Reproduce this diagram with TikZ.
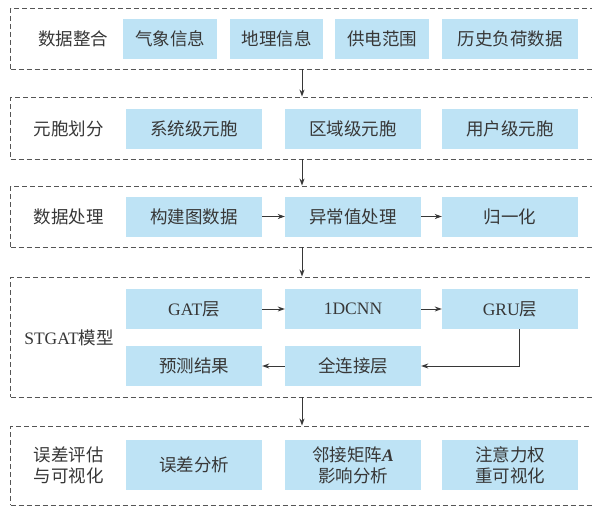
\documentclass[tikz,border=0pt]{standalone}
\usepackage{fontspec}
\setmainfont{Liberation Serif}
\newfontfamily\cjk{Noto Sans CJK SC}
\usetikzlibrary{arrows.meta}
\definecolor{boxblue}{RGB}{190,227,245}
\definecolor{txt}{RGB}{55,55,55}
\definecolor{dash}{RGB}{85,85,85}
\tikzset{
  base/.style={text=txt, font=\fontsize{17.5}{21}\selectfont\cjk, inner sep=0pt},
  bluebox/.style={base, fill=boxblue, minimum height=40pt, minimum width=136pt},
  group/.style={draw=dash, line width=0.9pt, dash pattern=on 5pt off 3pt, inner sep=0pt},
  lbl/.style={base, align=center},
  arr/.style={draw=txt, line width=0.9pt, -{Stealth[length=7pt,width=5pt]}}
}
\begin{document}
\begin{tikzpicture}[x=1pt,y=-1pt]
\useasboundingbox (0,0) rectangle (592,506);
\begin{scope}
\clip (0,0) rectangle (592,506);
% groups
\node[group, minimum width=589.5pt, minimum height=61pt] (g1) at (305.25,38.5) {};
\node[group, minimum width=589.5pt, minimum height=62pt] (g2) at (305.25,128) {};
\node[group, minimum width=589.5pt, minimum height=61pt] (g3) at (305.25,216.5) {};
\node[group, minimum width=589.5pt, minimum height=120pt] (g4) at (305.25,337) {};
\node[group, minimum width=589.5pt, minimum height=79pt] (g5) at (305.25,465.5) {};
\end{scope}
\coordinate (ax) at (302,0);
% row 1
\node[lbl] (l1) at (73,39) {数据整合};
\node[bluebox, minimum width=94pt] (a1) at (170,39) {气象信息};
\node[bluebox, minimum width=93pt] (a2) at (276.5,39) {地理信息};
\node[bluebox, minimum width=94pt] (a3) at (382,39) {供电范围};
\node[bluebox] (a4) at (510,39) {历史负荷数据};
% row 2
\node[lbl] (l2) at (69,129) {元胞划分};
\node[bluebox] (b1) at (194,129) {系统级元胞};
\node[bluebox] (b2) at (353,129) {区域级元胞};
\node[bluebox] (b3) at (510,129) {用户级元胞};
% row 3
\node[lbl] (l3) at (69,216.5) {数据处理};
\node[bluebox] (c1) at (194,216.5) {构建图数据};
\node[bluebox] (c2) at (353,216.5) {异常值处理};
\node[bluebox] (c3) at (510,216.5) {归一化};
% row 4
\node[lbl] (l4) at (69,338) {\rmfamily STGAT\cjk 模型};
\node[bluebox] (d1) at (194,309) {\rmfamily GAT\cjk 层};
\node[bluebox] (d2) at (353,309) {\rmfamily 1DCNN};
\node[bluebox] (d3) at (510,309) {\rmfamily GRU\cjk 层};
\node[bluebox] (d4) at (194,366) {预测结果};
\node[bluebox] (d5) at (353,366) {全连接层};
% row 5
\node[lbl] (l5) at (69,465) {误差评估\\与可视化};
\node[bluebox, minimum height=50pt] (e1) at (194,465) {误差分析};
\node[bluebox, minimum height=50pt, align=center] (e2) at (353,465) {邻接矩阵{\rmfamily\bfseries\itshape A}\\影响分析};
\node[bluebox, minimum height=50pt, align=center] (e3) at (510,465) {注意力权\\重可视化};
% arrows between groups
\draw[arr] (g1.south -| ax) -- (g2.north -| ax);
\draw[arr] (g2.south -| ax) -- (g3.north -| ax);
\draw[arr] (g3.south -| ax) -- (g4.north -| ax);
\draw[arr] (g4.south -| ax) -- (g5.north -| ax);
% arrows inside
\draw[arr] (c1) -- (c2);
\draw[arr] (c2) -- (c3);
\draw[arr] (d1) -- (d2);
\draw[arr] (d2) -- (d3);
\coordinate (gx) at (519,0);
\draw[arr] (d3.south -| gx) |- (d5.east);
\draw[arr] (d5) -- (d4);
\end{tikzpicture}
\end{document}
